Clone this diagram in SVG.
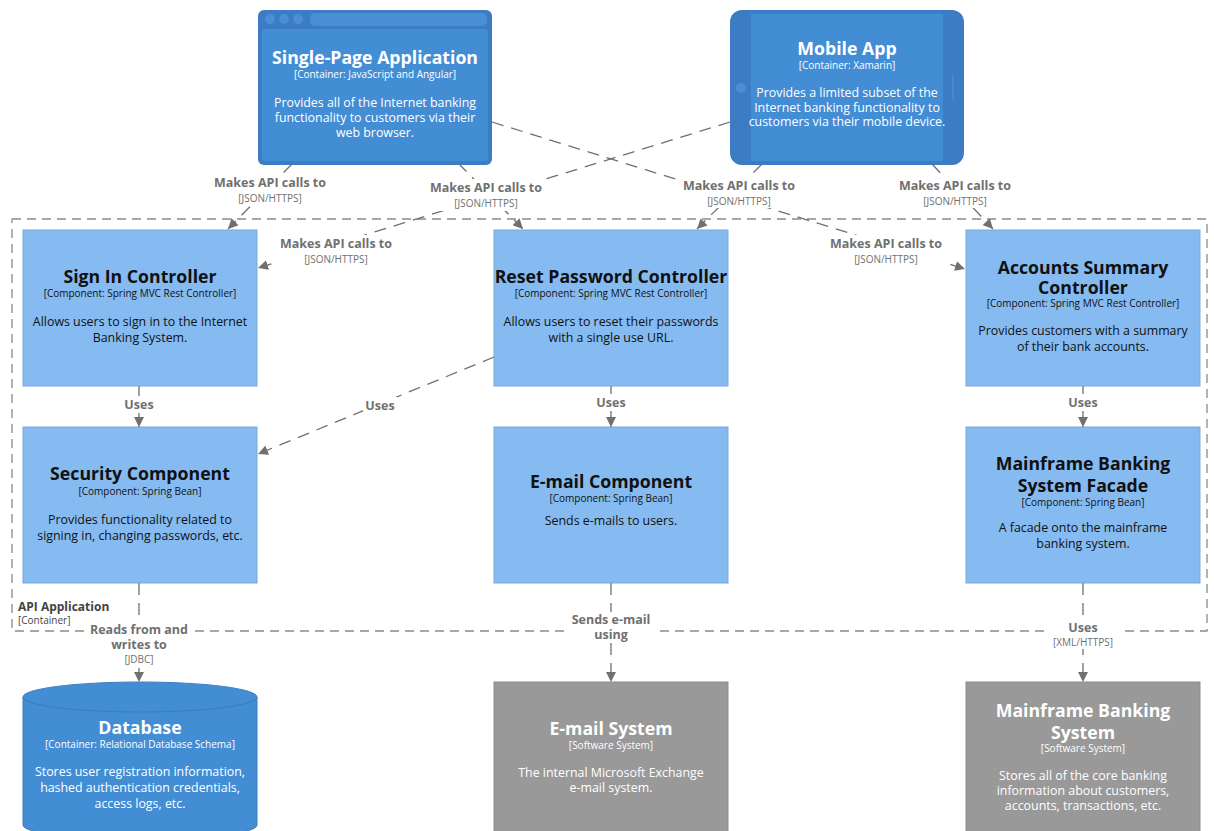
<svg xmlns="http://www.w3.org/2000/svg" width="1214" height="831" viewBox="0 0 1214 831">
<defs>
<style>
text{font-family:"Open Sans","Liberation Sans",sans-serif;text-anchor:middle}
.t{font-size:17.7px;font-weight:bold}
.ty{font-size:10px}
.d{font-size:12.4px}
.w{fill:#ffffff}
.k{fill:#111111}
.comp{fill:#85bbf0;stroke:#78a8d8;stroke-width:1}
.sys{fill:#999999;stroke:#8b8b8b;stroke-width:1}
.cn{fill:none;stroke:#707070;stroke-width:1.3;stroke-dasharray:12 8;marker-end:url(#ah)}
.lb{font-size:12.5px;font-weight:bold;fill:#707070}
.lt{font-size:10px;fill:#707070}
.bg{fill:#ffffff}
.bnd{fill:none;stroke:#8a8a8a;stroke-width:1.3;stroke-dasharray:9 6}
</style>
<marker id="ah" viewBox="0 0 10 10" refX="10" refY="5" markerWidth="10" markerHeight="10" markerUnits="userSpaceOnUse" orient="auto">
<path d="M0,0 L10,5 L0,10 z" fill="#707070"/>
</marker>
</defs>
<rect width="1214" height="831" fill="#ffffff"/>

<g id="boundary">
<rect class="bnd" x="12" y="219" width="1195" height="412"/>
<text x="18" y="611" style="text-anchor:start;font-size:12px;font-weight:bold;fill:#444">API Application</text>
<text x="18" y="624" style="text-anchor:start;font-size:10px;fill:#444">[Container]</text>
</g>

<g id="spa">
<rect x="258" y="10" width="234" height="155" rx="6" fill="#3b7cc4"/>
<rect x="262" y="29" width="226" height="132" rx="2" fill="#438dd5"/>
<circle cx="270" cy="19" r="5" fill="#4a8fd6"/>
<circle cx="284" cy="19" r="5" fill="#4a8fd6"/>
<circle cx="298" cy="19" r="5" fill="#4a8fd6"/>
<rect x="310" y="13" width="177" height="13" rx="5" fill="#4a8fd6"/>
<text class="t w" x="375" y="64">Single-Page Application</text>
<text class="ty w" x="375" y="78">[Container: JavaScript and Angular]</text>
<text class="d w" x="375" y="107">Provides all of the Internet banking</text>
<text class="d w" x="375" y="122">functionality to customers via their</text>
<text class="d w" x="375" y="137">web browser.</text>
</g>

<g id="mobile">
<rect x="730" y="10" width="234" height="155" rx="12" fill="#3b7cc4"/>
<rect x="751" y="14" width="192" height="147" fill="#438dd5"/>
<circle cx="741" cy="88" r="5" fill="#4a8fd6"/>
<line x1="953" y1="75" x2="953" y2="100" stroke="#4a8fd6" stroke-width="1.5"/>
<text class="t w" x="847" y="55">Mobile App</text>
<text class="ty w" x="847" y="69">[Container: Xamarin]</text>
<text class="d w" x="847" y="97">Provides a limited subset of the</text>
<text class="d w" x="847" y="111.5">Internet banking functionality to</text>
<text class="d w" x="847" y="126">customers via their mobile device.</text>
</g>

<g id="signin">
<rect class="comp" x="23" y="230" width="234" height="156"/>
<text class="t k" x="140" y="283">Sign In Controller</text>
<text class="ty k" x="140" y="297">[Component: Spring MVC Rest Controller]</text>
<text class="d k" x="140" y="326">Allows users to sign in to the Internet</text>
<text class="d k" x="140" y="342">Banking System.</text>
</g>

<g id="reset">
<rect class="comp" x="494" y="230" width="234" height="156"/>
<text class="t k" x="611" y="283">Reset Password Controller</text>
<text class="ty k" x="611" y="297">[Component: Spring MVC Rest Controller]</text>
<text class="d k" x="611" y="326">Allows users to reset their passwords</text>
<text class="d k" x="611" y="342">with a single use URL.</text>
</g>

<g id="accounts">
<rect class="comp" x="966" y="230" width="234" height="156"/>
<text class="t k" x="1083" y="274">Accounts Summary</text>
<text class="t k" x="1083" y="294">Controller</text>
<text class="ty k" x="1083" y="307">[Component: Spring MVC Rest Controller]</text>
<text class="d k" x="1083" y="335">Provides customers with a summary</text>
<text class="d k" x="1083" y="351">of their bank accounts.</text>
</g>

<g id="security">
<rect class="comp" x="23" y="427" width="234" height="156"/>
<text class="t k" x="140" y="480">Security Component</text>
<text class="ty k" x="140" y="495">[Component: Spring Bean]</text>
<text class="d k" x="140" y="524">Provides functionality related to</text>
<text class="d k" x="140" y="540">signing in, changing passwords, etc.</text>
</g>

<g id="emailcomp">
<rect class="comp" x="494" y="427" width="234" height="156"/>
<text class="t k" x="611" y="488">E-mail Component</text>
<text class="ty k" x="611" y="502">[Component: Spring Bean]</text>
<text class="d k" x="611" y="525">Sends e-mails to users.</text>
</g>

<g id="facade">
<rect class="comp" x="966" y="427" width="234" height="156"/>
<text class="t k" x="1083" y="470">Mainframe Banking</text>
<text class="t k" x="1083" y="492">System Facade</text>
<text class="ty k" x="1083" y="506">[Component: Spring Bean]</text>
<text class="d k" x="1083" y="532">A facade onto the mainframe</text>
<text class="d k" x="1083" y="548">banking system.</text>
</g>

<g id="database">
<path d="M23,697 L23,825 A117,15 0 0 0 257,825 L257,697 A117,15 0 0 0 23,697 Z" fill="#438dd5" stroke="#3c7fc0" stroke-width="1"/>
<path d="M23,697 A117,15 0 0 0 257,697" fill="none" stroke="#3c7fc0" stroke-width="1.2"/>
<text class="t w" x="140" y="734">Database</text>
<text class="ty w" x="140" y="748">[Container: Relational Database Schema]</text>
<text class="d w" x="140" y="776">Stores user registration information,</text>
<text class="d w" x="140" y="792">hashed authentication credentials,</text>
<text class="d w" x="140" y="808">access logs, etc.</text>
</g>

<g id="emailsys">
<rect class="sys" x="494" y="682" width="234" height="160"/>
<text class="t w" x="611" y="735">E-mail System</text>
<text class="ty w" x="611" y="749">[Software System]</text>
<text class="d w" x="611" y="777">The internal Microsoft Exchange</text>
<text class="d w" x="611" y="792">e-mail system.</text>
</g>

<g id="mainframe">
<rect class="sys" x="966" y="682" width="234" height="160"/>
<text class="t w" x="1083" y="717">Mainframe Banking</text>
<text class="t w" x="1083" y="739">System</text>
<text class="ty w" x="1083" y="752">[Software System]</text>
<text class="d w" x="1083" y="780">Stores all of the core banking</text>
<text class="d w" x="1083" y="795">information about customers,</text>
<text class="d w" x="1083" y="810">accounts, transactions, etc.</text>
</g>

<g id="connectors">
<path class="cn" d="M292,164 L228,229"/>
<path class="cn" d="M458,163 L523,229"/>
<path class="cn" d="M730,122 L258,268"/>
<path class="cn" d="M492,122 L965,269"/>
<path class="cn" d="M762,164 L697,229"/>
<path class="cn" d="M932,164 L993,229"/>
<path class="cn" d="M139,386 L139,427"/>
<path class="cn" d="M611,386 L611,427"/>
<path class="cn" d="M1083,386 L1083,427"/>
<path class="cn" d="M494,357 L258,454"/>
<path class="cn" d="M139,583 L139,682"/>
<path class="cn" d="M611,583 L611,682"/>
<path class="cn" d="M1083,583 L1083,682"/>

<rect class="bg" x="210" y="174" width="120" height="31"/>
<text class="lb" x="270" y="187">Makes API calls to</text>
<text class="lt" x="270" y="202">[JSON/HTTPS]</text>

<rect class="bg" x="426" y="179" width="120" height="32"/>
<text class="lb" x="486" y="192">Makes API calls to</text>
<text class="lt" x="486" y="207">[JSON/HTTPS]</text>

<rect class="bg" x="276" y="235" width="120" height="32"/>
<text class="lb" x="336" y="248">Makes API calls to</text>
<text class="lt" x="336" y="263">[JSON/HTTPS]</text>

<rect class="bg" x="826" y="235" width="120" height="32"/>
<text class="lb" x="886" y="248">Makes API calls to</text>
<text class="lt" x="886" y="263">[JSON/HTTPS]</text>

<rect class="bg" x="679" y="177" width="120" height="31"/>
<text class="lb" x="739" y="190">Makes API calls to</text>
<text class="lt" x="739" y="205">[JSON/HTTPS]</text>

<rect class="bg" x="895" y="177" width="120" height="31"/>
<text class="lb" x="955" y="190">Makes API calls to</text>
<text class="lt" x="955" y="205">[JSON/HTTPS]</text>

<rect class="bg" x="122" y="396" width="34" height="17"/>
<text class="lb" x="139" y="409">Uses</text>
<rect class="bg" x="594" y="394" width="34" height="17"/>
<text class="lb" x="611" y="407">Uses</text>
<rect class="bg" x="1066" y="394" width="34" height="17"/>
<text class="lb" x="1083" y="407">Uses</text>
<rect class="bg" x="363" y="397" width="34" height="17"/>
<text class="lb" x="380" y="410">Uses</text>

<rect class="bg" x="86" y="620" width="106" height="48"/>
<text class="lb" x="139" y="634">Reads from and</text>
<text class="lb" x="139" y="649">writes to</text>
<text class="lt" x="139" y="663">[JDBC]</text>

<rect class="bg" x="566" y="612" width="90" height="31"/>
<text class="lb" x="611" y="624">Sends e-mail</text>
<text class="lb" x="611" y="639">using</text>

<rect class="bg" x="1046" y="619" width="74" height="30"/>
<text class="lb" x="1083" y="632">Uses</text>
<text class="lt" x="1083" y="646">[XML/HTTPS]</text>
</g>
</svg>
